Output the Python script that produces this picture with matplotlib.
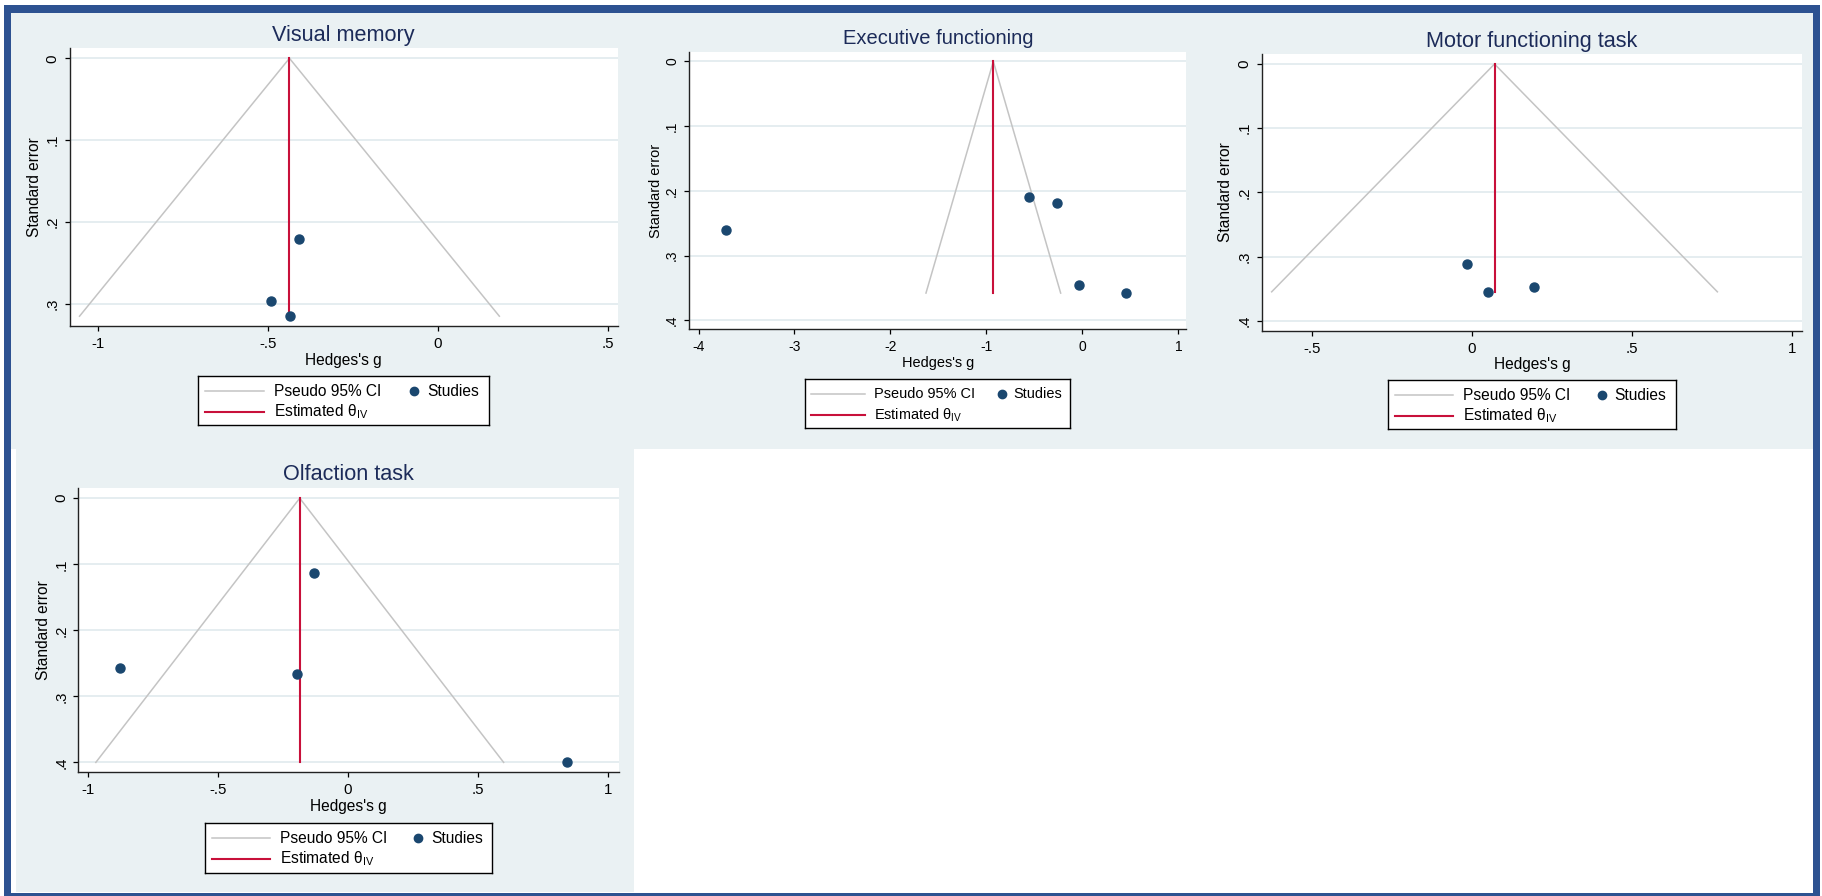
import matplotlib

matplotlib.use("Agg")
import matplotlib.pyplot as plt
from matplotlib.patches import Rectangle

plt.rcParams["font.family"] = ["Liberation Sans", "DejaVu Sans"]

W, H = 1822, 896

# ---- data ----
titles = ["Visual memory", "Executive functioning", "Motor functioning task", "Olfaction task"]

visual_g = [-0.410, -0.491, -0.435]
visual_se = [0.221, 0.297, 0.315]
visual_theta = -0.437

exec_g = [-3.709, -0.561, -0.266, -0.032, 0.459]
exec_se = [0.261, 0.209, 0.219, 0.345, 0.358]
exec_theta = -0.928

motor_g = [-0.015, 0.050, 0.193]
motor_se = [0.311, 0.355, 0.347]
motor_theta = 0.071

olf_g = [-0.877, -0.131, -0.197, 0.840]
olf_se = [0.257, 0.114, 0.266, 0.400]
olf_theta = -0.186

xticks = [[-1, -0.5, 0, 0.5], [-4, -3, -2, -1, 0, 1], [-0.5, 0, 0.5, 1], [-1, -0.5, 0, 0.5, 1]]
yticks = [[0, 0.1, 0.2, 0.3], [0, 0.1, 0.2, 0.3, 0.4], [0, 0.1, 0.2, 0.3, 0.4], [0, 0.1, 0.2, 0.3, 0.4]]

# ---- layout (pixels from top-left) ----
axes_px = [(69.5, 48.3, 617.5, 326), (689.3, 51.7, 1186.4, 329.3),
           (1262, 54, 1802, 330.7), (78.4, 488.3, 618.6, 772.3)]
xlims = [(-1.084, 0.528), (-4.096, 1.084), (-0.655, 1.031), (-1.037, 1.040)]
ylims = [(-0.0122, 0.327), (-0.015, 0.414), (-0.0156, 0.4156), (-0.015, 0.415)]
title_y = [35, 38, 41, 474]
legend_px = [(198, 376, 489, 425), (805, 379, 1070, 428), (1388, 380, 1676, 429), (205, 823, 492, 873)]
text_scale = [1.0, 0.93, 1.0, 1.0]
ylabel_off = [35, 33, 36, 35]

BORDER = "#2d5291"
PANEL_BG = "#eaf1f3"
GRID = "#e3ecef"
TITLE = "#1c2b59"
CI_COL = "#c4c4c4"
THETA_COL = "#c8103a"
DOT = "#1a476f"


def px_rect(l, t, r, b):
    return [l / W, 1 - b / H, (r - l) / W, (b - t) / H]


def stata_fmt(v):
    s = f"{v:g}"
    return s.replace("0.", ".")


def add_fig_rect(fig, l, t, r, b, color, z=-10):
    fig.patches.append(Rectangle((l / W, 1 - b / H), (r - l) / W, (b - t) / H,
                                 transform=fig.transFigure, facecolor=color,
                                 edgecolor="none", zorder=z))


def draw_legend(fig, box, sc):
    l, t, r, b = box
    lax = fig.add_axes(px_rect(l, t, r, b))
    lax.set_xlim(0, 1)
    lax.set_ylim(1, 0)
    lax.set_xticks([])
    lax.set_yticks([])
    for sp in lax.spines.values():
        sp.set_color("black")
        sp.set_linewidth(1.0)
    hgt = b - t
    y1, y2 = 15 / hgt, 36 / hgt
    fs = 11.2 * sc
    lax.plot([0.024, 0.227], [y1, y1], color=CI_COL, lw=1.1)
    lax.plot([0.024, 0.227], [y2, y2], color=THETA_COL, lw=1.5)
    lax.plot([0.742], [y1], "o", color=DOT, ms=6)
    lax.text(0.261, y1, "Pseudo 95% CI", va="center", fontsize=fs)
    lax.text(0.261, y2, r"Estimated $\mathregular{\theta_{IV}}$", va="center", fontsize=fs)
    lax.text(0.787, y1, "Studies", va="center", fontsize=fs)


def funnel(ax, g, se, theta):
    top = max(se)
    ax.plot([theta - 1.96 * top, theta, theta + 1.96 * top], [top, 0, top],
            color=CI_COL, lw=1.1, zorder=2)
    ax.plot([theta, theta], [0, top], color=THETA_COL, lw=1.5, zorder=3)
    ax.plot(g, se, "o", color=DOT, ms=6.5, zorder=4, clip_on=False)


fig = plt.figure(figsize=(W / 100, H / 100), dpi=100, facecolor="white")

# frame and panel backgrounds
add_fig_rect(fig, 4, 5, 1820, 13, BORDER)
add_fig_rect(fig, 4, 5, 11, 896, BORDER)
add_fig_rect(fig, 1813, 5, 1820, 896, BORDER)
add_fig_rect(fig, 4, 893, 1820, 896, BORDER)
add_fig_rect(fig, 11, 13, 1813, 449, PANEL_BG)
add_fig_rect(fig, 16, 449, 634, 892, PANEL_BG)

datasets = [(visual_g, visual_se, visual_theta), (exec_g, exec_se, exec_theta),
            (motor_g, motor_se, motor_theta), (olf_g, olf_se, olf_theta)]

for i, (g, se, theta) in enumerate(datasets):
    l, t, r, b = axes_px[i]
    sc = text_scale[i]
    ax = fig.add_axes(px_rect(l, t, r, b))
    ax.set_facecolor("white")
    funnel(ax, g, se, theta)
    ax.set_xlim(*xlims[i])
    ax.set_ylim(ylims[i][1], ylims[i][0])
    ax.set_xticks(xticks[i])
    ax.set_xticklabels([stata_fmt(v) for v in xticks[i]])
    ax.set_yticks(yticks[i])
    ax.set_yticklabels([stata_fmt(v) for v in yticks[i]], rotation=90, va="center")
    ax.tick_params(axis="x", length=5 * 0.72, width=0.9, pad=4.2, labelsize=10.8 * sc)
    ax.tick_params(axis="y", length=5 * 0.72, width=0.9, pad=3.7, labelsize=10.8 * sc)
    ax.yaxis.grid(True, color=GRID, lw=1.3)
    ax.set_axisbelow(True)
    for side in ("top", "right"):
        ax.spines[side].set_visible(False)
    for side in ("left", "bottom"):
        ax.spines[side].set_color("#222222")
        ax.spines[side].set_linewidth(1.0)

    wpx, hpx = r - l, b - t
    ax.set_xlabel("Hedges's g", fontsize=11.2 * sc)
    ax.xaxis.set_label_coords(0.5, -34 / hpx)
    ax.xaxis.label.set_va("center")
    ax.set_ylabel("Standard error", fontsize=11.2 * sc)
    ax.yaxis.set_label_coords(-ylabel_off[i] / wpx, 0.5)
    ax.yaxis.label.set_va("center")

    fig.text((l + r) / 2 / W, 1 - title_y[i] / H, titles[i], ha="center", va="center",
             fontsize=15.6 * sc, color=TITLE)
    draw_legend(fig, legend_px[i], sc)

fig.savefig("out.png", dpi=100, facecolor="white")
